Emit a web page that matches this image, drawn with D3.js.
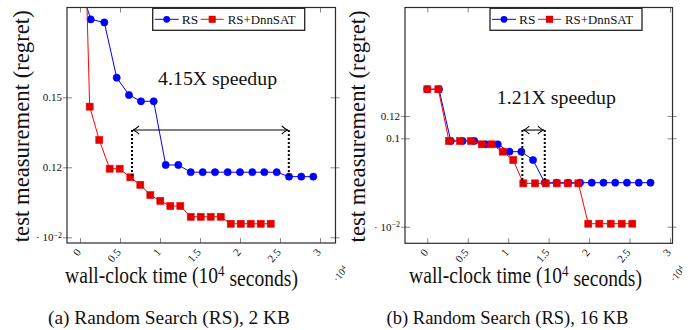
<!DOCTYPE html>
<html>
<head>
<meta charset="utf-8">
<script src="https://cdn.jsdelivr.net/npm/d3@7/dist/d3.min.js"></script>
<style>
  body { margin: 0; background: #fff; }
  svg text { font-family: "Liberation Serif", "Times New Roman", Times, serif; fill: #111; }
</style>
</head>
<body>
<div id="chart"></div>
<script>
// ---- data ----
// (a) 2 KB
const rsTime2kb = [0, 0.134, 0.304, 0.459, 0.6125, 0.7625, 0.921, 1.071, 1.229, 1.384, 1.534, 1.6875, 1.846, 2.0, 2.154, 2.304, 2.459, 2.6125, 2.766, 2.916];
const rsRegret2kb = [0.198, 0.1834, 0.1821, 0.1584, 0.1510, 0.1483, 0.1483, 0.1210, 0.1210, 0.1179, 0.1179, 0.1179, 0.1179, 0.1179, 0.1179, 0.1179, 0.1179, 0.1160, 0.1160, 0.1160];
const dnnTime2kb = [0, 0.121, 0.241, 0.371, 0.496, 0.629, 0.754, 0.879, 1.004, 1.129, 1.254, 1.384, 1.509, 1.634, 1.759, 1.884, 2.009, 2.134, 2.259, 2.384];
const dnnRegret2kb = [0.299, 0.1460, 0.1317, 0.1194, 0.1194, 0.1157, 0.1125, 0.1081, 0.1056, 0.1034, 0.1034, 0.0988, 0.0988, 0.0988, 0.0988, 0.0958, 0.0958, 0.0958, 0.0958, 0.0958];

// (b) 16 KB
const rsTime16kb = [0, 0.145, 0.290, 0.436, 0.581, 0.726, 0.871, 1.016, 1.162, 1.307, 1.452, 1.597, 1.742, 1.888, 2.033, 2.178, 2.323, 2.468, 2.614, 2.759];
const rsRegret16kb = [0.1440, 0.1440, 0.0976, 0.0976, 0.0976, 0.0946, 0.0946, 0.0880, 0.0880, 0.0805, 0.0602, 0.0602, 0.0602, 0.0602, 0.0602, 0.0602, 0.0602, 0.0602, 0.0602, 0.0602];
const dnnTime16kb = [0, 0.136, 0.268, 0.404, 0.540, 0.672, 0.796, 0.932, 1.063, 1.187, 1.332, 1.464, 1.600, 1.736, 1.867, 1.990, 2.126, 2.267, 2.403, 2.534];
const dnnRegret16kb = [0.1440, 0.1440, 0.0976, 0.0976, 0.0976, 0.0946, 0.0946, 0.0880, 0.0805, 0.0596, 0.0596, 0.0596, 0.0596, 0.0596, 0.0596, 0.0234, 0.0234, 0.0234, 0.0234, 0.0234];

// ticks
const xTicks = [0, 0.5, 1, 1.5, 2, 2.5, 3];
const xTickLabels = ['0', '0.5', '1', '1.5', '2', '2.5', '3'];
const yTicks2kb = [0.15, 0.12, 0.09];
const yTickLabels2kb = ['0.15', '0.12', 'SCALE'];
const yTicks16kb = [0.12, 0.10, 0.0207];
const yTickLabels16kb = ['0.12', '0.1', 'SCALE'];

const seriesNames = ['RS', 'RS+DnnSAT'];
const captions = ['(a) Random Search (RS), 2 KB', '(b) Random Search (RS), 16 KB'];
const speedups = ['4.15X speedup', '1.21X speedup'];

// ---- layout ----
const W = 691, H = 330;
const svg = d3.select('#chart').append('svg')
    .attr('width', W)
    .attr('height', H);

const defs = svg.append('defs');
defs.append('marker')
    .attr('id', 'arrowHead')
    .attr('viewBox', '-8 -5 10 10')
    .attr('refX', 0).attr('refY', 0)
    .attr('markerWidth', 10).attr('markerHeight', 10)
    .attr('markerUnits', 'userSpaceOnUse')
    .attr('orient', 'auto-start-reverse')
    .append('path')
    .attr('d', 'M-6,-4 Q-2,-0.5 0,0 Q-2,0.5 -6,4')
    .attr('fill', 'none')
    .attr('stroke', '#000')
    .attr('stroke-width', 1.1);

// scale the font of a text so that its length matches the reference
function fit(sel, target) {
    const size = parseFloat(sel.style('font-size'));
    const len = sel.node().getComputedTextLength();
    if (len > 0) sel.style('font-size', (size * target / len).toFixed(2) + 'px');
    return sel;
}

function drawPanel(p) {
    const g = svg.append('g').attr('transform', `translate(${p.left},${p.top})`);

    const x = d3.scaleLinear().domain(p.xDomain).range([0, p.width]);
    const y = d3.scaleLinear().domain(p.yDomain).range([p.height, 0]);

    const clipId = 'clip' + p.id;
    defs.append('clipPath').attr('id', clipId)
        .append('rect').attr('width', p.width).attr('height', p.height);

    // Axes (ticks inward, mirrored on top / right)
    const xb = g.append('g').attr('transform', `translate(0,${p.height})`)
        .call(d3.axisBottom(x).tickValues(xTicks).tickSizeInner(-5).tickSizeOuter(0)
            .tickFormat((d, i) => xTickLabels[i]));
    const xt = g.append('g')
        .call(d3.axisTop(x).tickValues(xTicks).tickSizeInner(-5).tickSizeOuter(0).tickFormat(''));
    const yl = g.append('g')
        .call(d3.axisLeft(y).tickValues(p.yTicks).tickSizeInner(-5).tickSizeOuter(0)
            .tickFormat((d, i) => p.yLabels[i]));
    const yr = g.append('g').attr('transform', `translate(${p.width},0)`)
        .call(d3.axisRight(y).tickValues(p.yTicks).tickSizeInner(-5).tickSizeOuter(0).tickFormat(''));

    [xb, xt, yl, yr].forEach(a => {
        a.attr('font-family', null);
        a.select('.domain').remove();
        a.selectAll('line').attr('stroke', '#8a8a8a').attr('stroke-width', 1);
    });
    yl.selectAll('line').attr('x1', -4);
    yr.selectAll('line').attr('x1', 4);

    xb.selectAll('text')
        .attr('x', 0).attr('y', 0).attr('dy', '0.35em')
        .attr('transform', 'translate(-2,7) rotate(-50)')
        .style('text-anchor', 'end')
        .style('font-size', '11px')
        .attr('fill', '#222');

    yl.selectAll('text')
        .attr('x', -5)
        .style('font-size', '11px')
        .attr('fill', '#222')
        .each(function (d) {
            const t = d3.select(this);
            if (t.text() === 'SCALE') {
                t.text('');
                t.append('tspan').text('· 10');
                t.append('tspan').attr('dy', '-0.45em').style('font-size', '8px').text('−2');
            }
        });

    // Frame
    g.append('rect')
        .attr('width', p.width).attr('height', p.height)
        .attr('fill', 'none').attr('stroke', '#2a2a2a').attr('stroke-width', 1.2);

    // Series
    const plot = g.append('g').attr('clip-path', `url(#${clipId})`);
    const line = d3.line().x(d => x(d[0])).y(d => y(d[1]));

    const rs = p.rsTime.map((t, i) => [t, p.rsRegret[i]]);
    const dnn = p.dnnTime.map((t, i) => [t, p.dnnRegret[i]]);

    plot.append('path').datum(rs).attr('d', line)
        .attr('fill', 'none').attr('stroke', '#0000ff').attr('stroke-width', 1);
    plot.selectAll('.rs-pt').data(rs).enter().append('circle')
        .attr('class', 'rs-pt')
        .attr('cx', d => x(d[0])).attr('cy', d => y(d[1])).attr('r', 3.6)
        .attr('fill', '#0000ff').attr('stroke', '#0000ff').attr('stroke-width', 0.6);

    plot.append('path').datum(dnn).attr('d', line)
        .attr('fill', 'none').attr('stroke', '#ff0000').attr('stroke-width', 1);
    plot.selectAll('.dnn-pt').data(dnn).enter().append('rect')
        .attr('class', 'dnn-pt')
        .attr('x', d => x(d[0]) - 3.5).attr('y', d => y(d[1]) - 3.5)
        .attr('width', 7).attr('height', 7)
        .attr('fill', '#e00000').attr('stroke', '#ff0000').attr('stroke-width', 0.6);

    // Speedup annotation
    const a = p.arrow;
    [[a.x1, a.y1], [a.x2, a.y2]].forEach(([xv, yb]) => {
        g.append('line')
            .attr('x1', x(xv)).attr('x2', x(xv))
            .attr('y1', y(a.y)).attr('y2', y(yb))
            .attr('stroke', '#000').attr('stroke-width', 2)
            .attr('stroke-dasharray', '2,2');
    });
    g.append('line')
        .attr('x1', x(a.x1) + 1).attr('x2', x(a.x2) - 1)
        .attr('y1', y(a.y)).attr('y2', y(a.y))
        .attr('stroke', '#000').attr('stroke-width', 1.1)
        .attr('marker-start', 'url(#arrowHead)')
        .attr('marker-end', 'url(#arrowHead)');
    fit(g.append('text')
        .attr('x', x(p.textX)).attr('y', y(p.textY))
        .attr('dy', '0.35em')
        .style('text-anchor', 'middle')
        .style('font-size', '17.5px')
        .text(p.speedup), 119);

    // Legend
    const lg = g.append('g').attr('transform', `translate(${p.legendX},0.8)`);
    lg.append('rect').attr('width', 152).attr('height', 22)
        .attr('fill', '#fff').attr('stroke', '#222').attr('stroke-width', 1.3);
    lg.append('line').attr('x1', 2).attr('x2', 26).attr('y1', 11).attr('y2', 11)
        .attr('stroke', '#0000ff');
    lg.append('circle').attr('cx', 14).attr('cy', 11).attr('r', 3.4).attr('fill', '#0000ff');
    fit(lg.append('text').attr('x', 29).attr('y', 11).attr('dy', '0.35em')
        .style('font-size', '13px').text(seriesNames[0]), 16.5);
    lg.append('line').attr('x1', 48).attr('x2', 71).attr('y1', 11).attr('y2', 11)
        .attr('stroke', '#ff0000');
    lg.append('rect').attr('x', 56).attr('y', 7.5).attr('width', 7).attr('height', 7)
        .attr('fill', '#e00000');
    fit(lg.append('text').attr('x', 75).attr('y', 11).attr('dy', '0.35em')
        .style('font-size', '13px').text(seriesNames[1]), 68);

    // Axis titles
    fit(g.append('text')
        .attr('transform', `translate(${p.yTitleX},${p.height / 2 + 1}) rotate(-90)`)
        .attr('dy', '0.35em')
        .style('text-anchor', 'middle')
        .style('font-size', '22px')
        .text('test measurement (regret)'), 232);

    // x title: same type size as the y title, squeezed to the reference width
    const xg = g.append('g');
    const xt2 = xg.append('text')
        .style('text-anchor', 'middle')
        .style('font-size', '22.5px');
    xt2.append('tspan').text('wall-clock time (10');
    xt2.append('tspan').attr('dy', '-0.45em').style('font-size', '15px').text('4');
    xt2.append('tspan').attr('dy', '0.45em').text(' seconds)');
    const sx = 233 / xt2.node().getComputedTextLength();
    xg.attr('transform', `translate(${p.xTitleX},275) scale(${sx.toFixed(3)},1)`);

    // ·10^4 x scale label
    const sc = g.append('text')
        .attr('transform', `translate(${p.width + 2},${275}) rotate(-50)`)
        .style('font-size', '10px')
        .attr('fill', '#222');
    sc.append('tspan').text('·10');
    sc.append('tspan').attr('dy', '-0.45em').style('font-size', '7px').text('4');

    // Caption
    fit(g.append('text')
        .attr('x', p.captionX).attr('y', 316.5)
        .style('text-anchor', 'middle')
        .style('font-size', '16px')
        .text(p.caption), 242);
}

drawPanel({
    id: 'a', left: 67, top: 7.5, width: 268.5, height: 235.5,
    xDomain: [-0.1625, 3.19375], yDomain: [0.08756, 0.18849],
    yTicks: yTicks2kb, yLabels: yTickLabels2kb,
    rsTime: rsTime2kb, rsRegret: rsRegret2kb,
    dnnTime: dnnTime2kb, dnnRegret: dnnRegret2kb,
    arrow: { x1: 0.65, x2: 2.61, y: 0.136, y1: 0.1157, y2: 0.1160 },
    textX: 1.72, textY: 0.1584, speedup: speedups[0],
    legendX: 85.7,
    yTitleX: -45.5, xTitleX: 114.5, captionX: 102,
    caption: captions[0]
});

drawPanel({
    id: 'b', left: 405, top: 7.5, width: 267.5, height: 235.8,
    xDomain: [-0.2756, 3.0309], yDomain: [0.00583, 0.2173],
    yTicks: yTicks16kb, yLabels: yTickLabels16kb,
    rsTime: rsTime16kb, rsRegret: rsRegret16kb,
    dnnTime: dnnTime16kb, dnnRegret: dnnRegret16kb,
    arrow: { x1: 1.175, x2: 1.452, y: 0.1074, y1: 0.0599, y2: 0.0599 },
    textX: 1.595, textY: 0.1373, speedup: speedups[1],
    legendX: 85,
    yTitleX: -48.3, xTitleX: 120.5, captionX: 102.5,
    caption: captions[1]
});
</script>
</body>
</html>
